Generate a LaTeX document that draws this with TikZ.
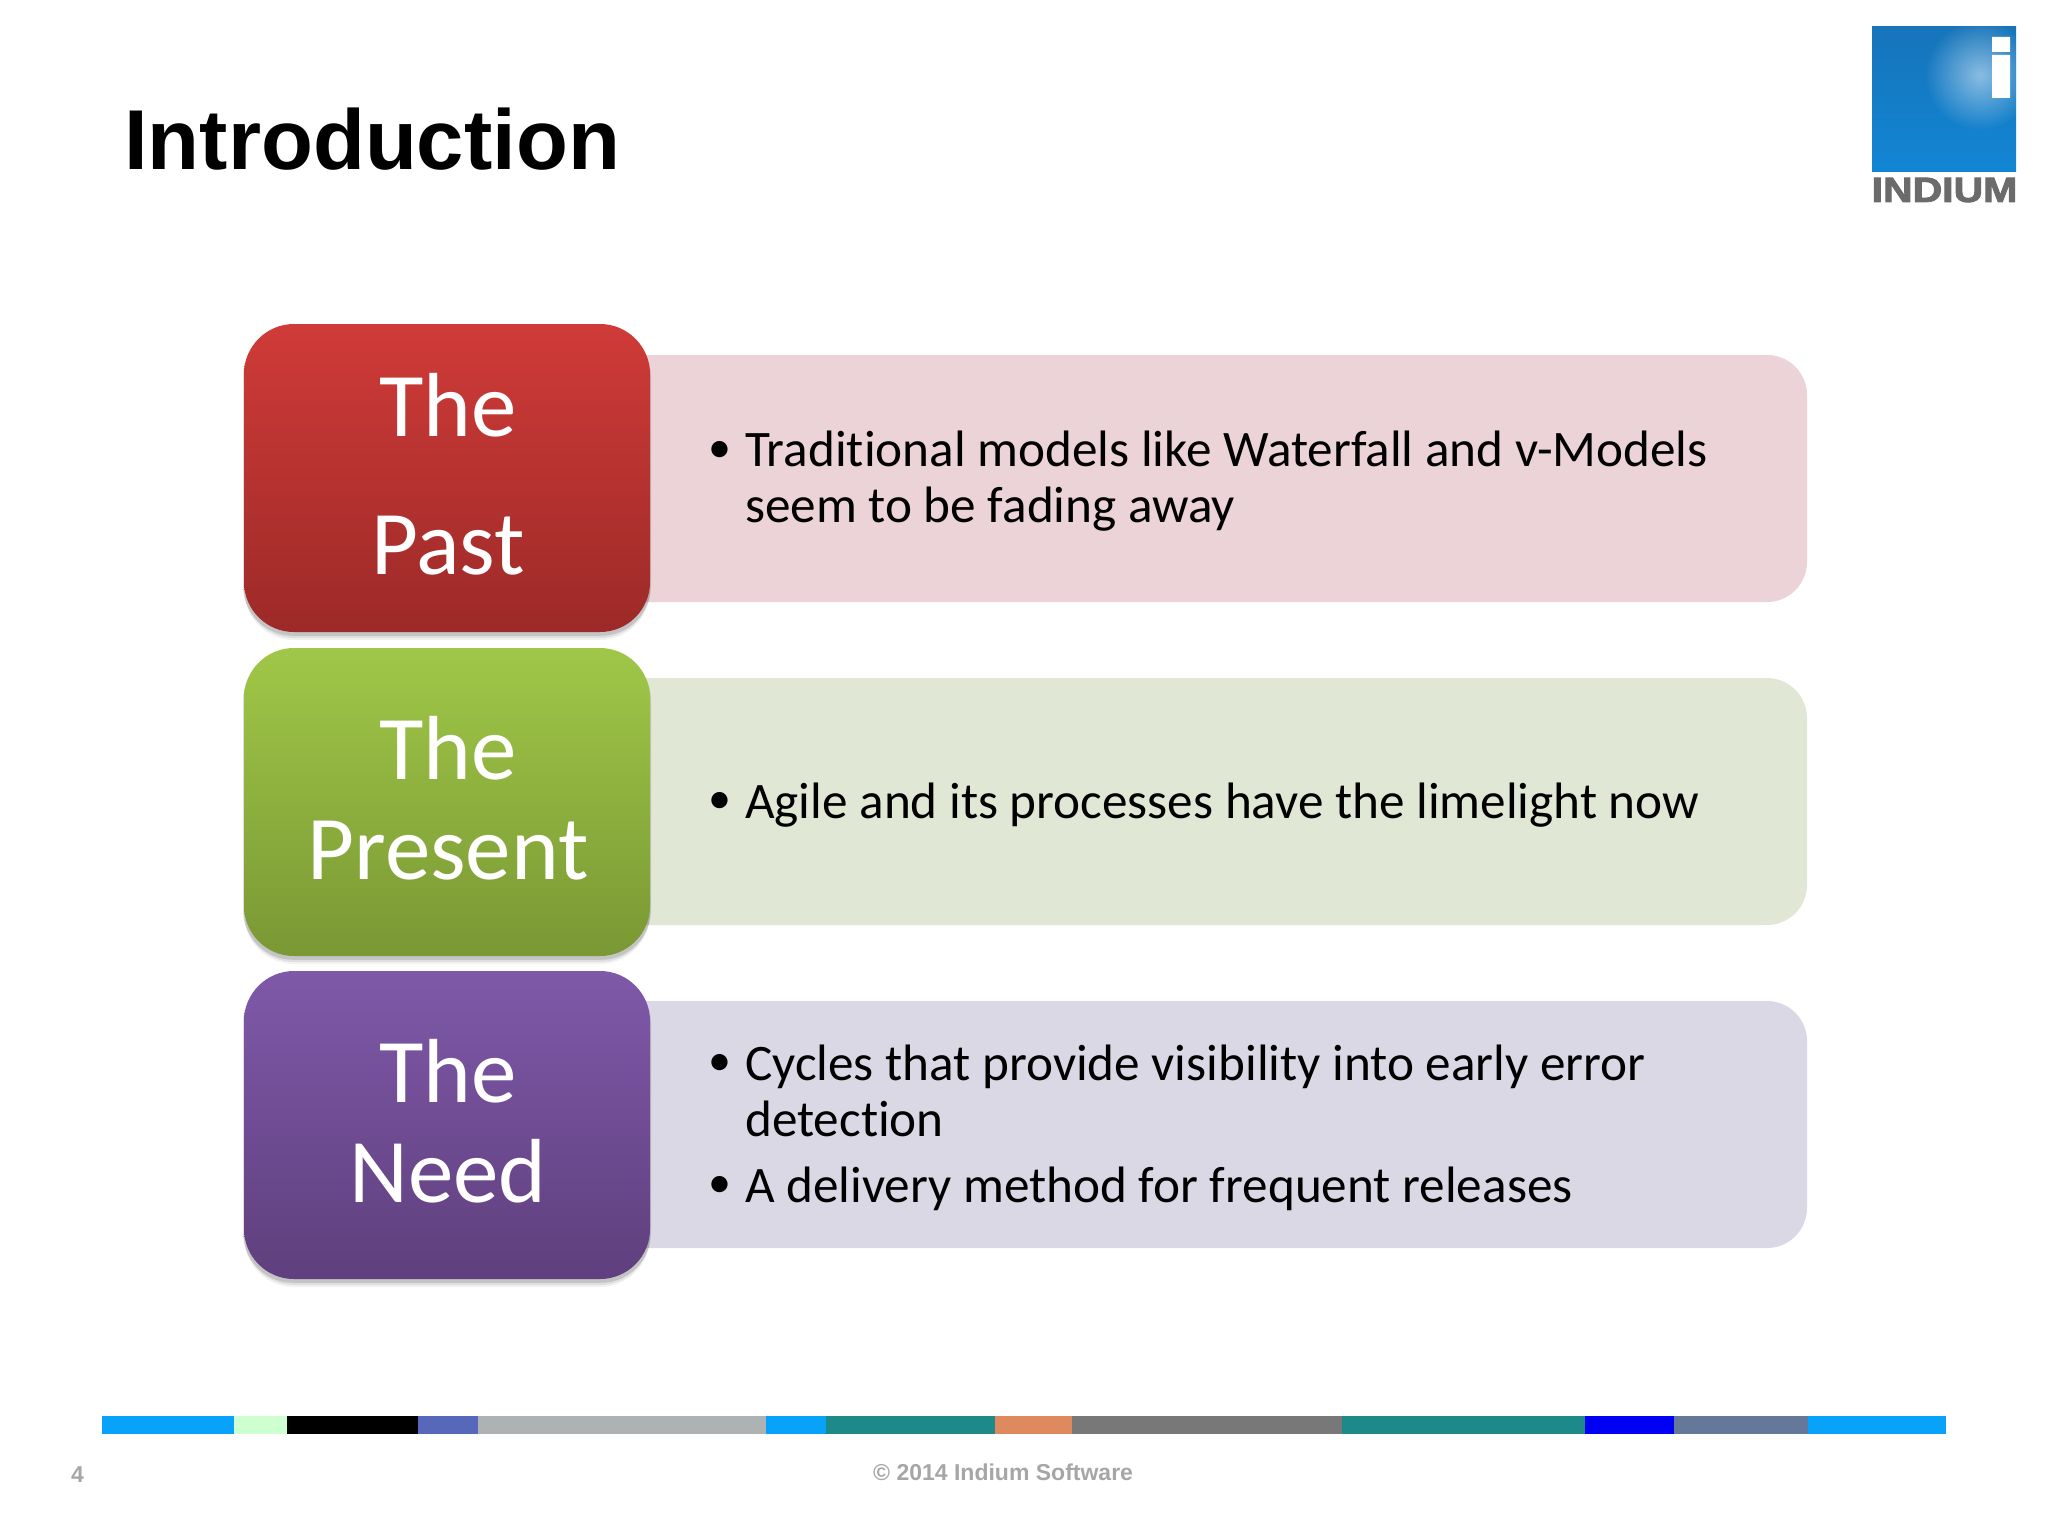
\documentclass[tikz,border=0pt]{standalone}
\usepackage{fontspec}
\setmainfont[Ligatures=NoCommon]{Carlito}
\newfontfamily\arialfont{Liberation Sans}
\newfontfamily\logofont[BoldFeatures={FakeBold=2.5}]{Liberation Sans}
\usetikzlibrary{shadows}
\usetikzlibrary{fadings}
\definecolor{barblue}{HTML}{08A2FB}
\definecolor{barmint}{HTML}{CDFFD0}
\definecolor{barindigo}{HTML}{5768BA}
\definecolor{barsilver}{HTML}{ADB3B3}
\definecolor{barteal}{HTML}{1B8A89}
\definecolor{barorange}{HTML}{DE8A5E}
\definecolor{bargray}{HTML}{787878}
\definecolor{barnavy}{HTML}{0000F5}
\definecolor{barslate}{HTML}{66789A}
\tikzfading[name=logoglow,inner color=transparent!0,outer color=transparent!100]
\tikzstyle{head}=[rectangle,rounded corners=50pt,minimum width=406pt,minimum height=308pt,inner sep=0pt,
                  drop shadow={shadow xshift=0pt,shadow yshift=-8pt,opacity=0.05,fill=black},
                  drop shadow={shadow xshift=0pt,shadow yshift=-6pt,opacity=0.08,fill=black},
                  drop shadow={shadow xshift=0pt,shadow yshift=-3pt,shadow scale=1.005,opacity=0.12,fill=black}]
\tikzstyle{headlabel}=[inner sep=0pt,text=white,align=center,font=\fontsize{91}{100}\selectfont]
\tikzstyle{panel}=[rectangle,rounded corners=40pt,minimum width=1207pt,minimum height=247pt,inner sep=0pt]
\tikzstyle{item}=[anchor=west,inner sep=0pt,align=left,font=\fontsize{51.2}{56}\selectfont]
\tikzstyle{bullet}=[anchor=west,inner sep=0pt,font=\fontsize{46}{56}\selectfont]
\tikzstyle{foot}=[inner sep=0pt,anchor=base west,text=black!35,font=\arialfont\bfseries\fontsize{23}{26}\selectfont]
\begin{document}
\begin{tikzpicture}[x=1pt,y=-1pt]
\useasboundingbox (0,0) rectangle (2048,1536);
\node[inner sep=0pt,anchor=base west,font=\arialfont\bfseries\fontsize{85}{90}\selectfont] (title) at (124,169) {Introduction};
% logo
\fill[top color={rgb,255:red,22;green,116;blue,186},bottom color={rgb,255:red,18;green,134;blue,212}] (1872,27) rectangle (2016,171);
\begin{scope}
\clip (1872,27) rectangle (2016,171);
\fill[white,opacity=0.5,path fading=logoglow] (1980,75) circle (55);
\end{scope}
\fill[white] (1992,37) rectangle (2010,52) (1992,55) rectangle (2010,98);
\node[inner sep=0pt,text=black!58,xscale=1.17,font=\logofont\bfseries\fontsize{35}{35}\selectfont] (logoname) at (1944.5,190) {INDIUM};
% panels
\node[panel,fill={rgb,255:red,235;green,211;blue,215}] (pastpanel) at (1203.5,478.5) {};
\node[panel,fill={rgb,255:red,225;green,231;blue,213}] (presentpanel) at (1203.5,801.5) {};
\node[panel,fill={rgb,255:red,218;green,216;blue,228}] (needpanel) at (1203.5,1124.5) {};
% heads
\node[head,top color={rgb,255:red,207;green,59;blue,56},bottom color={rgb,255:red,156;green,42;blue,40}] (past) at (447,478) {};
\node[head,top color={rgb,255:red,160;green,199;blue,72},bottom color={rgb,255:red,122;green,152;blue,52}] (present) at (447,802) {};
\node[head,top color={rgb,255:red,127;green,89;blue,169},bottom color={rgb,255:red,95;green,63;blue,125}] (need) at (447,1125) {};
\node[headlabel] (pastlabel) at (448,474.5) {The\\[38pt]Past};
\node[headlabel] (presentlabel) at (448,798) {The\\Present};
\node[headlabel] (needlabel) at (448,1121) {The\\Need};
% bullets
\node[bullet] (b1) at (708,452) {•};
\node[item] (t1) at (745,481) {Traditional models like Waterfall and v-Models\\seem to be fading away};
\node[bullet] (b2) at (708,803) {•};
\node[item] (t2) at (745,805) {Agile and its processes have the limelight now};
\node[bullet] (b3) at (708,1065) {•};
\node[item] (t3) at (745,1091) {Cycles that provide visibility into early error\\detection};
\node[bullet] (b4) at (708,1187) {•};
\node[item] (t4) at (745,1189) {A delivery method for frequent releases};
% colour bar
\foreach \xa/\xb/\col in {102/234/barblue,234/287/barmint,287/418/black,418/478/barindigo,
  478/766/barsilver,766/826/barblue,826/995/barteal,995/1072/barorange,1072/1342/bargray,
  1342/1585/barteal,1585/1674/barnavy,1674/1808/barslate,1808/1946/barblue}
  \fill[\col] (\xa,1416) rectangle (\xb,1434);
\node[foot] (pagenum) at (71,1482) {4};
\node[foot] (copyright) at (873,1480) {© 2014 Indium Software};
\end{tikzpicture}
\end{document}
